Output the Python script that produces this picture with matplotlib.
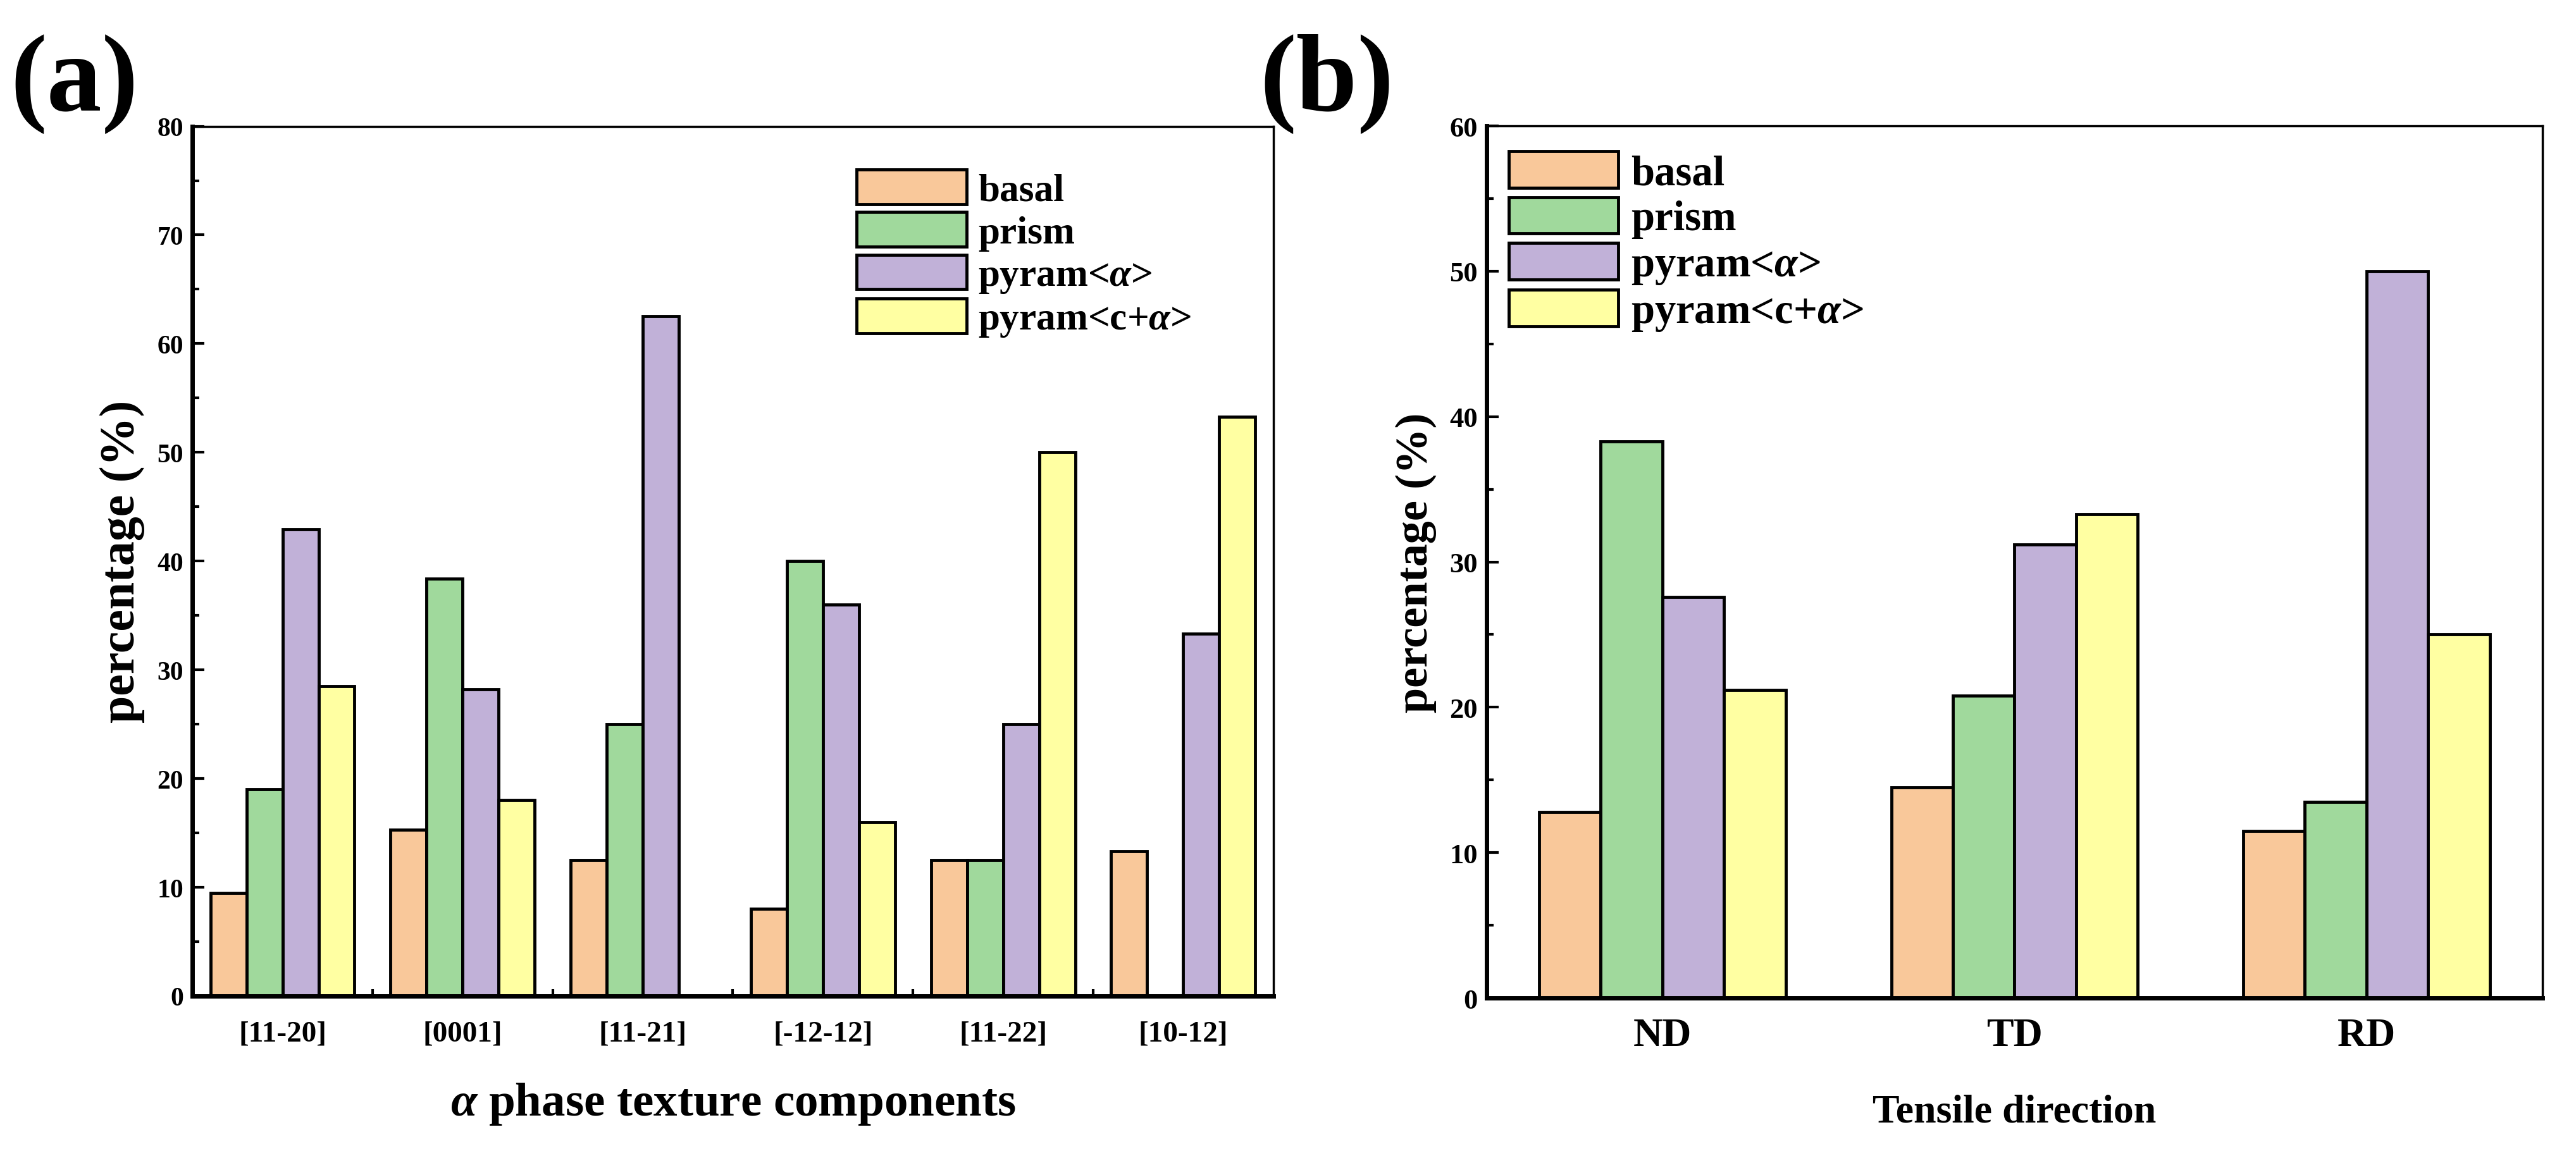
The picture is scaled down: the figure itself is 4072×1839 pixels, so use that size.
import numpy as np
import matplotlib
matplotlib.use('Agg')
import matplotlib.pyplot as plt
from matplotlib.ticker import MultipleLocator, FixedLocator

plt.rcParams['font.family'] = ['Liberation Serif', 'DejaVu Serif']
plt.rcParams['font.weight'] = 'bold'
plt.rcParams['mathtext.fontset'] = 'custom'
plt.rcParams['mathtext.it'] = 'Liberation Serif:italic:bold'
plt.rcParams['mathtext.rm'] = 'Liberation Serif:bold'

series = ['basal', 'prism', 'pyram<$\\alpha$>', 'pyram<c+$\\alpha$>']
colors = ['#F9C89A', '#A0D99C', '#C1B1D8', '#FFFFA2']

# panel (a)
texture = ['[11-20]', '[0001]', '[11-21]', '[-12-12]', '[11-22]', '[10-12]']
basal_a = [9.5, 15.3, 12.5, 8.0, 12.5, 13.3]
prism_a = [19.0, 38.4, 25.0, 40.0, 12.5, 0.0]
pyram_a = [42.9, 28.2, 62.5, 36.0, 25.0, 33.3]
pyram_ca = [28.5, 18.0, 0.0, 16.0, 50.0, 53.3]

# panel (b)
direction = ['ND', 'TD', 'RD']
basal_b = [12.8, 14.5, 11.5]
prism_b = [38.3, 20.8, 13.5]
pyram_b = [27.6, 31.2, 50.0]
pyram_cb = [21.2, 33.3, 25.0]


def draw_panel(ax, cats, data, width, ymax, tick_fs, xminor=True):
    x = np.arange(len(cats))
    n = len(data)
    for i, vals in enumerate(data):
        off = (i - (n - 1) / 2) * width
        ax.bar(x + off, vals, width, color=colors[i], edgecolor='black',
               linewidth=3.5, label=series[i])
    ax.set_xlim(-0.5, len(cats) - 0.5)
    ax.set_ylim(0, ymax)
    ax.set_xticks(x)
    ax.set_xticklabels(cats)
    if xminor:
        ax.xaxis.set_minor_locator(FixedLocator(np.arange(len(cats) - 1) + 0.5))
        ax.tick_params(axis='x', which='minor', direction='in', length=8, width=3)
    ax.yaxis.set_major_locator(MultipleLocator(10))
    ax.yaxis.set_minor_locator(MultipleLocator(5))
    ax.tick_params(axis='y', which='major', direction='in', length=14, width=3,
                   labelsize=tick_fs, pad=10)
    ax.tick_params(axis='y', which='minor', direction='in', length=8, width=3)
    ax.tick_params(axis='x', which='major', length=0, labelsize=tick_fs + 4, pad=28)
    ax.spines['left'].set_linewidth(5)
    ax.spines['bottom'].set_linewidth(5)
    ax.spines['top'].set_linewidth(2.5)
    ax.spines['right'].set_linewidth(2.5)


fig = plt.figure(figsize=(40.72, 18.4), dpi=100)
ax1 = fig.add_axes([0.0747, 0.1435, 0.4196, 0.7475])
ax2 = fig.add_axes([0.577, 0.1418, 0.410, 0.7495])

draw_panel(ax1, texture, [basal_a, prism_a, pyram_a, pyram_ca], 0.2, 80, 30)
ax1.set_ylabel('percentage (%)', fontsize=56, fontweight='bold', labelpad=14)
ax1.set_xlabel('$\\alpha$ phase texture components', fontsize=54,
               fontweight='bold', labelpad=38)
ax1.legend(loc='upper left', bbox_to_anchor=(0.6, 0.968), frameon=False,
           fontsize=44, handlelength=2.85, handleheight=1.0, labelspacing=0.1,
           handletextpad=0.3, borderaxespad=0.0)

draw_panel(ax2, direction, [basal_b, prism_b, pyram_b, pyram_cb], 0.175, 60, 32,
           xminor=False)
ax2.tick_params(axis='x', which='major', labelsize=46, pad=22)
ax2.set_ylabel('percentage (%)', fontsize=52, fontweight='bold', labelpad=14)
ax2.set_xlabel('Tensile direction', fontsize=46, fontweight='bold', labelpad=45)
ax2.legend(loc='upper left', bbox_to_anchor=(0.005, 0.99), frameon=False,
           fontsize=48, handlelength=2.6, handleheight=0.95, labelspacing=0.1,
           handletextpad=0.3, borderaxespad=0.0)

fig.text(0.004, 0.905, '(a)', fontsize=125, fontweight='bold')
fig.text(0.489, 0.905, '(b)', fontsize=125, fontweight='bold')

fig.savefig('out.png', dpi=100)
